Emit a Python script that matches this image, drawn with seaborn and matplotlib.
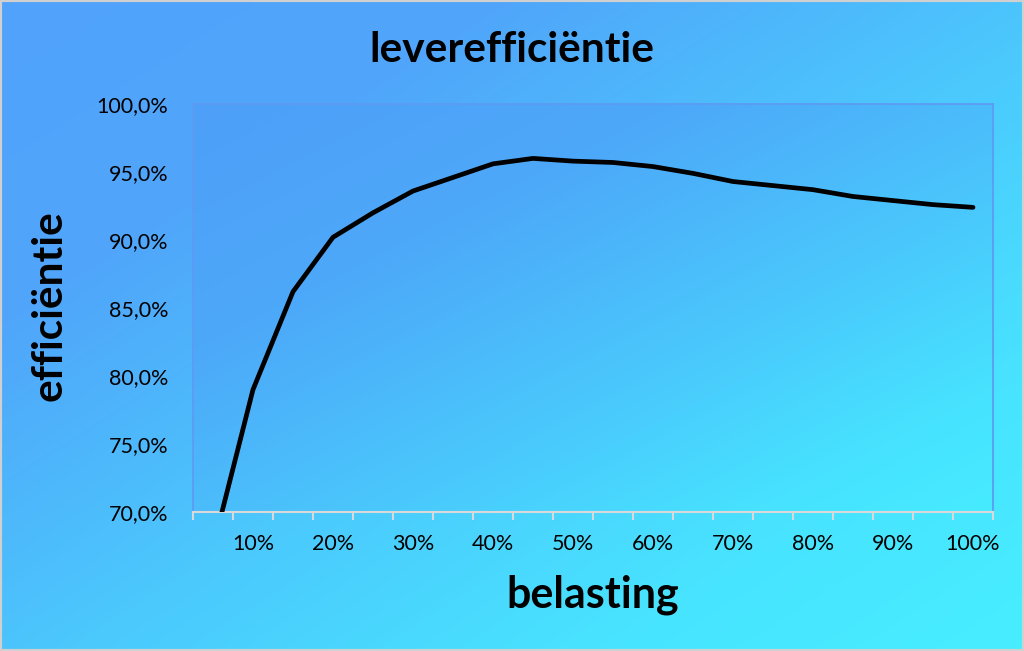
import numpy as np
import pandas as pd
import matplotlib
matplotlib.use("Agg")
import matplotlib.pyplot as plt
import seaborn as sns
from matplotlib.colors import LinearSegmentedColormap
from matplotlib.patches import Rectangle
from matplotlib.ticker import FuncFormatter

# ---- data ----
categories = ["5%", "10%", "15%", "20%", "25%", "30%", "35%", "40%", "45%", "50%",
              "55%", "60%", "65%", "70%", "75%", "80%", "85%", "90%", "95%", "100%"]
efficiency = [0.674, 0.790, 0.862, 0.902, 0.920, 0.936, 0.946, 0.956, 0.960, 0.958,
              0.957, 0.954, 0.949, 0.943, 0.940, 0.937, 0.932, 0.929, 0.926, 0.924]
y_ticks = [0.70, 0.75, 0.80, 0.85, 0.90, 0.95, 1.00]
title = "leverefficiëntie"
xlabel = "belasting"
ylabel = "efficiëntie"

df = pd.DataFrame({"pos": np.arange(len(categories)), "eff": efficiency})

sns.set_theme(style="white")
plt.rcParams['font.family'] = ['Lato', 'DejaVu Sans']

W, H = 1024, 651
fig = plt.figure(figsize=(W / 100, H / 100), dpi=100)

# background gradient for whole figure
bg = fig.add_axes([0, 0, 1, 1], zorder=-10)
u = np.linspace(0, 1, 300)[None, :]
v = np.linspace(0, 1, 200)[:, None]
t = (u + v) / 2
cmap_bg = LinearSegmentedColormap.from_list(
    "bg", [(0, "#50A2FA"), (0.25, "#50A6FA"), (0.55, "#4BCAFD"),
           (0.8, "#48E4FF"), (1, "#47EEFF")])
bg.imshow(t, cmap=cmap_bg, aspect="auto", extent=[0, 1, 0, 1], vmin=0, vmax=1,
          interpolation="bilinear")
bg.set_xlim(0, 1); bg.set_ylim(0, 1)
bg.axis("off")

# main plot area
ax = fig.add_axes([193 / W, 139 / H, 800 / W, 408 / H])
ax.set_facecolor("none")
cmap_pa = LinearSegmentedColormap.from_list(
    "pa", [(0, "#4E9FF8"), (0.3, "#4DA8F9"), (0.6, "#4AC6FC"),
           (0.85, "#47E2FF"), (1, "#46EBFF")])
ax.imshow(t, cmap=cmap_pa, aspect="auto", extent=[0, 1, 0, 1], vmin=0, vmax=1,
          transform=ax.transAxes, interpolation="bilinear", zorder=0)

sns.lineplot(data=df, x="pos", y="eff", ax=ax, color="black", linewidth=3.4,
             solid_capstyle="round", solid_joinstyle="round", zorder=3)

n = len(categories)
ax.set_xlim(-0.5, n - 0.5)
ax.set_ylim(y_ticks[0], y_ticks[-1])

# x ticks: marks at category boundaries, labels every other category
ax.set_xticks(np.arange(-0.5, n, 1.0))
ax.set_xticklabels([])
label_pos = [i for i in range(n) if i % 2 == 1]
ax.set_xticks(label_pos, minor=True)
ax.set_xticklabels([categories[i] for i in label_pos], minor=True)
ax.tick_params(axis="x", which="major", direction="out", length=6, width=1.5,
               color="#D9D9D9", bottom=True)
ax.tick_params(axis="x", which="minor", length=0, pad=16, labelsize=15.5,
               labelcolor="black")

ax.set_yticks(y_ticks)
ax.yaxis.set_major_formatter(FuncFormatter(lambda val, p: f"{val*100:.1f}%".replace(".", ",")))
ax.tick_params(axis="y", length=0, pad=18, labelsize=15.5, labelcolor="black")

for s in ["left", "top", "right"]:
    ax.spines[s].set_color("#5C9CF4")
    ax.spines[s].set_linewidth(1.3)
ax.spines["bottom"].set_color("#D9D9D9")
ax.spines["bottom"].set_linewidth(1.5)
ax.grid(False)
ax.set_xlabel("")
ax.set_ylabel("")

fig.text(0.5, 1 - 50 / H, title, ha="center", va="center", fontsize=30.5,
         fontweight="bold", color="black")
fig.text(593 / W, 1 - 595 / H, xlabel, ha="center", va="center", fontsize=31,
         fontweight="bold", color="black")
fig.text(50 / W, 1 - 306 / H, ylabel, ha="center", va="center", fontsize=30.5,
         fontweight="bold", color="black", rotation=90)

# outer border
fig.patches.append(Rectangle((0, 0), 1, 1, transform=fig.transFigure, fill=False,
                             edgecolor="#D0D0D0", linewidth=3, zorder=20))

fig.savefig("out.png", dpi=100)
